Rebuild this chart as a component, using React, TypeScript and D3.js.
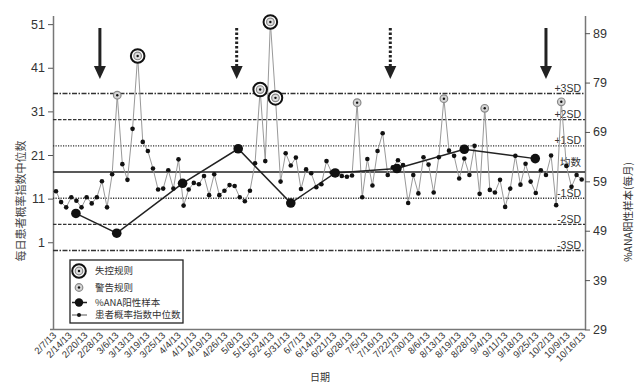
import React, { useEffect, useRef } from 'react'
import * as d3 from 'd3'

// x axis category labels
const dates = ['2/7/13', '2/14/13', '2/20/13', '2/28/13', '3/6/13', '3/13/13', '3/19/13', '3/25/13',
  '4/4/13', '4/11/13', '4/19/13', '4/26/13', '5/8/13', '5/15/13', '5/24/13', '5/31/13', '6/7/13',
  '6/14/13', '6/21/13', '6/28/13', '7/5/13', '7/16/13', '7/22/13', '7/30/13', '8/6/13', '8/13/13',
  '8/19/13', '8/28/13', '9/4/13', '9/11/13', '9/18/13', '9/25/13', '10/2/13', '10/9/13', '10/16/13']

// daily median patient probability index
const dailyMedian = [12.7, 10.2, 9.0, 11.3, 10.5, 9.0, 11.3, 9.9, 11.3, 15.0,
  9.0, 16.6, 34.7, 18.9, 15.3, 27.0, 43.7, 24.0, 21.9, 17.9,
  13.1, 13.3, 17.5, 13.3, 20.0, 9.4, 13.1, 14.6, 14.3, 16.2,
  11.8, 16.6, 11.8, 12.8, 14.1, 13.9, 11.3, 10.4, 12.8, 19.1,
  36.0, 19.6, 51.5, 34.1, 14.9, 21.4, 18.6, 20.4, 13.2, 17.7,
  16.8, 13.6, 14.3, 19.6, 17.0, 16.6, 16.2, 16.0, 16.3, 33.0,
  11.3, 20.1, 14.0, 21.9, 26.0, 16.4, 18.2, 19.8, 18.7, 10.0,
  16.4, 12.2, 20.5, 18.8, 12.4, 20.5, 33.9, 22.0, 20.8, 15.6,
  20.2, 16.4, 23.1, 12.1, 31.7, 13.0, 12.4, 15.3, 9.1, 13.3,
  20.8, 14.2, 19.0, 14.9, 12.3, 17.5, 16.4, 20.9, 9.5, 33.2,
  18.5, 13.7, 16.4, 15.4]

// flagged days (index into dailyMedian)
const warningDays = [12, 59, 76, 84, 99]
const outOfControlDays = [16, 40, 42, 43]

// monthly %ANA positive samples (position given as day index)
const monthDay = [3.9, 11.9, 24.8, 35.7, 46, 54.7, 66.8, 80, 93.9]
const anaPositive = [52.5, 48.5, 58.6, 65.6, 54.6, 60.7, 61.6, 65.5, 63.6]

// control limits
const meanValue = 17.1
const sdValue = 6
const limitMult = [3, 2, 1, 0, -1, -2, -3]
const limitLabels = ['+3SD', '+2SD', '+1SD', '均数', '-1SD', '-2SD', '-3SD']

const leftTicks = [1, 11, 21, 31, 41, 51]
const rightTicks = [29, 39, 49, 59, 69, 79, 89]

// event arrows (day index)
const arrowDay = [8.6, 35.4, 65.5, 96]
const arrowDotted = [false, true, true, false]

const legendLabels = ['失控规则', '警告规则', '%ANA阳性样本', '患者概率指数中位数']

const W = 639, H = 387
const left = 53, right = 585, top = 15.4, bottom = 329.5
const latin = 'Liberation Sans, Arial, sans-serif'
const cjk = '"Noto Sans CJK SC", sans-serif'

function App() {
  const ref = useRef<SVGSVGElement>(null)

  useEffect(() => {
    const svg = d3.select(ref.current)
    svg.selectAll('*').remove()

    const x = d3.scaleLinear().domain([0, dailyMedian.length - 1]).range([56, 581.7])
    const xd = d3.scalePoint<string>().domain(dates).range([57, 586])
    const yL = d3.scaleLinear().domain([-19, 53]).range([bottom, top])
    const yR = d3.scaleLinear().domain([29, 92.6]).range([bottom, top])

    // axes
    const gl = svg.append('g').attr('transform', `translate(${left},0)`)
      .call(d3.axisLeft(yL).tickValues(leftTicks).tickSize(5).tickSizeOuter(0).tickPadding(3))
    const gr = svg.append('g').attr('transform', `translate(${right},0)`)
      .call(d3.axisRight(yR).tickValues(rightTicks).tickSize(5).tickSizeOuter(0).tickPadding(3))
    ;[gl, gr].forEach(g => {
      g.select('.domain').attr('stroke', '#777').attr('stroke-width', 1.5)
      g.selectAll('.tick line').attr('stroke', '#555')
      g.selectAll('.tick text').attr('font-family', latin).attr('font-size', 12.5).attr('fill', '#333')
    })
    svg.append('line').attr('x1', left - 3).attr('x2', right).attr('y1', bottom).attr('y2', bottom)
      .attr('stroke', '#777').attr('stroke-width', 1.5)

    // date labels
    svg.append('g').selectAll('text').data(dates).enter().append('text')
      .attr('transform', d => `translate(${xd(d)},336) rotate(-45)`)
      .attr('text-anchor', 'end')
      .attr('font-family', latin).attr('font-size', 9.5).attr('fill', '#333')
      .text(d => d)

    // axis titles
    svg.append('text').attr('transform', 'translate(25,201) rotate(-90)')
      .attr('text-anchor', 'middle').attr('font-family', cjk).attr('font-size', 11).attr('fill', '#444')
      .text('每日患者概率指数中位数')
    svg.append('text').attr('transform', 'translate(632,212) rotate(-90)')
      .attr('text-anchor', 'middle').attr('font-family', cjk).attr('font-size', 10.5).attr('fill', '#333')
      .text('%ANA阳性样本(每月)')
    svg.append('text').attr('x', 320).attr('y', 381)
      .attr('text-anchor', 'middle').attr('font-family', cjk).attr('font-size', 10).attr('fill', '#333')
      .text('日期')

    // control limit lines
    const dash = (m: number) => Math.abs(m) === 3 ? '5,1.5,1.5,1.5' : Math.abs(m) === 2 ? '3.5,1.5' : Math.abs(m) === 1 ? '1.2,1.3' : null
    limitMult.forEach((m, i) => {
      const yy = yL(meanValue + m * sdValue)
      svg.append('line').attr('x1', left).attr('x2', right).attr('y1', yy).attr('y2', yy)
        .attr('stroke', m === 0 ? '#222' : '#333').attr('stroke-width', m === 0 ? 1.3 : 1.4)
        .attr('stroke-dasharray', dash(m))
      svg.append('text').attr('x', 581).attr('y', yy - (m === 0 ? 6 : 1.5))
        .attr('text-anchor', 'end').attr('font-family', m === 0 ? cjk : latin).attr('font-size', 10.5)
        .attr('fill', '#333').text(limitLabels[i])
    })

    // arrows
    arrowDay.forEach((d, i) => {
      const ax = x(d)
      svg.append('line').attr('x1', ax).attr('x2', ax).attr('y1', 28).attr('y2', 68)
        .attr('stroke', '#222').attr('stroke-width', 3)
        .attr('stroke-dasharray', arrowDotted[i] ? '2.5,2' : null)
      svg.append('path').attr('d', `M${ax - 6},66L${ax + 6},66L${ax},79Z`).attr('fill', '#222')
    })

    // daily median line + points
    const line = d3.line<number>().x((_, i) => x(i)).y(d => yL(d))
    svg.append('path').datum(dailyMedian).attr('d', line)
      .attr('fill', 'none').attr('stroke', '#999').attr('stroke-width', 1)

    // monthly %ANA line
    const mline = d3.line<number>().x((_, i) => x(monthDay[i])).y(d => yR(d))
    svg.append('path').datum(anaPositive).attr('d', mline)
      .attr('fill', 'none').attr('stroke', '#222').attr('stroke-width', 1.5)

    const plain = dailyMedian.map((v, i) => ({ v, i }))
      .filter(d => !warningDays.includes(d.i) && !outOfControlDays.includes(d.i))
    svg.append('g').selectAll('circle').data(plain).enter().append('circle')
      .attr('cx', d => x(d.i)).attr('cy', d => yL(d.v)).attr('r', 2.3).attr('fill', '#111')

    svg.append('g').selectAll('circle').data(anaPositive).enter().append('circle')
      .attr('cx', (_, i) => x(monthDay[i])).attr('cy', d => yR(d)).attr('r', 4.8).attr('fill', '#111')

    const warnMark = (g: any, cx: number, cy: number) => {
      g.append('circle').attr('cx', cx).attr('cy', cy).attr('r', 3.8)
        .attr('fill', '#d4d4d4').attr('stroke', '#888').attr('stroke-width', 1.2)
      g.append('circle').attr('cx', cx).attr('cy', cy).attr('r', 1.2).attr('fill', '#111')
    }
    const outMark = (g: any, cx: number, cy: number) => {
      g.append('circle').attr('cx', cx).attr('cy', cy).attr('r', 6.8)
        .attr('fill', '#fff').attr('stroke', '#111').attr('stroke-width', 2)
      g.append('circle').attr('cx', cx).attr('cy', cy).attr('r', 3.8)
        .attr('fill', '#ddd').attr('stroke', '#888').attr('stroke-width', 1.2)
      g.append('circle').attr('cx', cx).attr('cy', cy).attr('r', 1.2).attr('fill', '#111')
    }
    warningDays.forEach(i => warnMark(svg, x(i), yL(dailyMedian[i])))
    outOfControlDays.forEach(i => outMark(svg, x(i), yL(dailyMedian[i])))

    // handmade legend
    const lg = svg.append('g')
    lg.append('rect').attr('x', 70).attr('y', 260).attr('width', 113).attr('height', 63)
      .attr('fill', '#fff').attr('stroke', '#222').attr('stroke-width', 1.3)
    const ly = [271, 287.5, 302.5, 315]
    outMark(lg, 79, ly[0])
    warnMark(lg, 79, ly[1])
    lg.append('line').attr('x1', 72).attr('x2', 87).attr('y1', ly[2]).attr('y2', ly[2]).attr('stroke', '#222').attr('stroke-width', 1.5)
    lg.append('circle').attr('cx', 79).attr('cy', ly[2]).attr('r', 4.2).attr('fill', '#111')
    lg.append('line').attr('x1', 72).attr('x2', 87).attr('y1', ly[3]).attr('y2', ly[3]).attr('stroke', '#555').attr('stroke-width', 1)
    lg.append('circle').attr('cx', 79).attr('cy', ly[3]).attr('r', 2).attr('fill', '#111')
    legendLabels.forEach((t, i) => {
      lg.append('text').attr('x', 95).attr('y', ly[i]).attr('dy', '0.35em')
        .attr('font-family', cjk).attr('font-size', 9.5).attr('fill', '#333').text(t)
    })
  }, [])

  return (
    <svg ref={ref} width={W} height={H} viewBox={`0 0 ${W} ${H}`}
      style={{ position: 'absolute', left: 0, top: 0, background: '#fff' }} />
  )
}

export default App
